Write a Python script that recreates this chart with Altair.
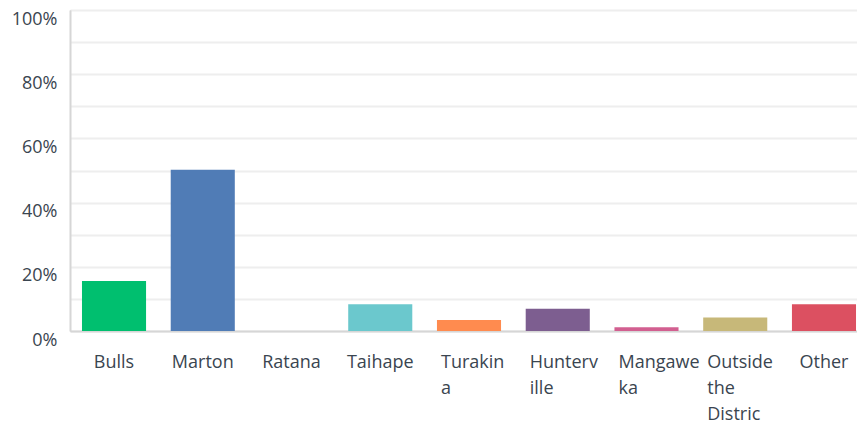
import altair as alt
import pandas as pd

categories = ["Bulls", "Marton", "Ratana", "Taihape", "Turakina", "Hunterville",
              "Mangaweka", "Outside the District", "Other"]
values = [15.6, 50.2, 0.0, 8.3, 3.4, 6.9, 1.2, 4.2, 8.3]
colors = ["#00bf6f", "#507cb6", "#f9be00", "#6bc8cd", "#ff8b4f", "#7d5e90",
          "#d25f90", "#c7b879", "#dc5061"]
wrapped = {
    "Turakina": ["Turakin", "a"],
    "Hunterville": ["Hunterv", "ille"],
    "Mangaweka": ["Mangawe", "ka"],
    "Outside the District": ["Outside", "the", "Distric"],
}
y_ticks = [0, 10, 20, 30, 40, 50, 60, 70, 80, 90, 100]

df = pd.DataFrame({"cat": categories, "val": values})

expr = "datum.label"
for k, lines in reversed(list(wrapped.items())):
    arr = "[" + ",".join("'%s'" % s for s in lines) + "]"
    expr = "datum.value=='%s' ? %s : (%s)" % (k, arr, expr)

wrapped_list = "[" + ",".join("'%s'" % k for k in wrapped) + "]"
test = "indexof(%s, datum.value) >= 0" % wrapped_list

FONT = "Open Sans"
TXT = "#3a4550"

chart = alt.Chart(df).mark_bar().encode(
    x=alt.X("cat:N", sort=categories, title=None,
            scale=alt.Scale(range=[0, 798], paddingInner=0.278, paddingOuter=0.135),
            axis=alt.Axis(labelAngle=0, labelExpr=expr, labelLimit=200,
                          labelAlign={"condition": {"test": test, "value": "left"}, "value": "center"},
                          labelOffset={"condition": {"test": test, "value": -28}, "value": 0},
                          labelBaseline="top", labelPadding=22, labelLineHeight=26,
                          ticks=False, tickSize=0, grid=False, labelOverlap=False,
                          domainColor="#d6d6d6", domainWidth=2,
                          labelFont=FONT, labelFontSize=18, labelColor=TXT)),
    y=alt.Y("val:Q", title=None, scale=alt.Scale(domain=[0, 100], nice=False),
            axis=alt.Axis(values=y_ticks,
                          labelExpr="datum.value % 20 == 0 ? datum.value + '%' : ''",
                          ticks=False, tickSize=0, labelPadding=13, labelOffset=9,
                          grid=True, gridColor="#eeeeee", gridWidth=2, labelOverlap=False,
                          domainColor="#d6d6d6", domainWidth=2,
                          labelFont=FONT, labelFontSize=18, labelColor=TXT)),
    color=alt.Color("cat:N", sort=categories, legend=None,
                    scale=alt.Scale(domain=categories, range=colors)),
).properties(
    width=787, height=321,
    autosize=alt.AutoSizeParams(type="none"),
    padding={"left": 70, "top": 10, "right": 0, "bottom": 94},
).configure_view(stroke=None).configure(background="white")

chart.save("out.html", embed_options={"renderer": "svg", "actions": False})
